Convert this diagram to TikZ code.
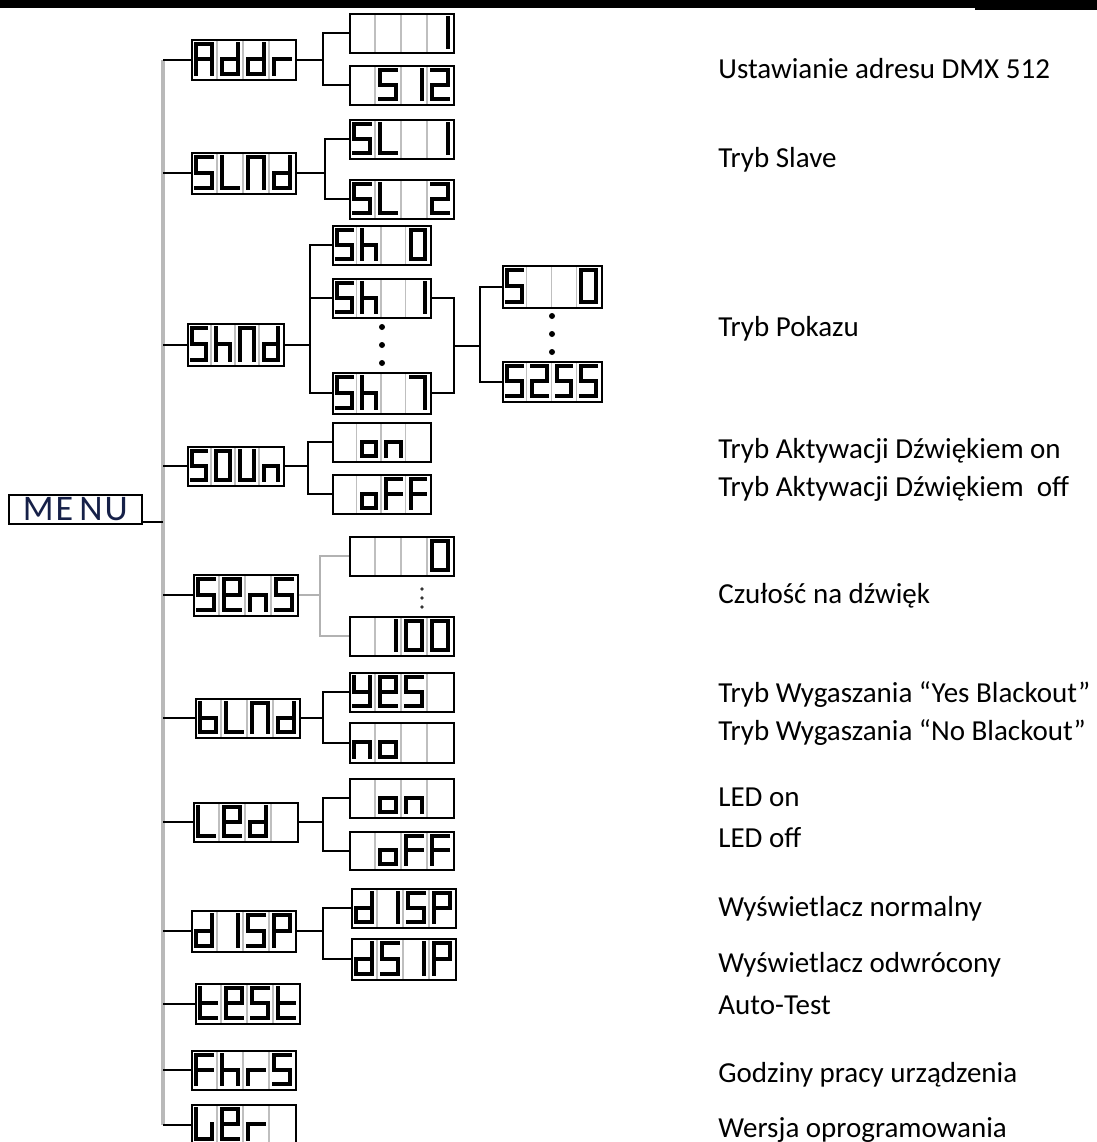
\documentclass[tikz,border=0pt]{standalone}
\usepackage{fontspec}
\setmainfont{Carlito}
\usepackage{tikz}
\usetikzlibrary{calc}

\definecolor{menublue}{RGB}{22,32,72}

\tikzset{
  lcd/.style={draw, line width=0.9pt, rectangle, inner sep=0pt, anchor=north west},
  lcdsep/.style={draw=gray!50, line width=0.6pt},
  seg/.style={line width=2pt, line cap=rect},
  link/.style={line width=1pt},
  graylink/.style={draw=gray!60, line width=1pt},
  bus/.style={draw=gray!55, line width=1.6pt},
  descr/.style={anchor=base west, inner sep=0pt, font=\fontsize{14.5}{17}\selectfont},
}

\def\sega{(\gl,\gt) -- (\gr,\gt)}
\def\segb{(\gr,\gt) -- (\gr,\gm)}
\def\segc{(\gr,\gm) -- (\gr,\gb)}
\def\segd{(\gl,\gb) -- (\gr,\gb)}
\def\sege{(\gl,\gm) -- (\gl,\gb)}
\def\segf{(\gl,\gt) -- (\gl,\gm)}
\def\segg{(\gl,\gm) -- (\gr,\gm)}
\def\segz{}

\newcommand{\defglyph}[2]{\expandafter\def\csname glyph#1\endcsname{#2}}
\defglyph{x}{z}
\defglyph{0}{a,b,c,d,e,f}
\defglyph{1}{b,c}
\defglyph{2}{a,b,g,e,d}
\defglyph{5}{a,f,g,c,d}
\defglyph{7}{a,b,c}
\defglyph{A}{a,b,c,e,f,g}
\defglyph{b}{c,d,e,f,g}
\defglyph{d}{b,c,d,e,g}
\defglyph{E}{a,b,d,e,f,g}
\defglyph{F}{a,e,f,g}
\defglyph{h}{c,e,f,g}
\defglyph{L}{d,e,f}
\defglyph{N}{a,b,c,e,f}
\defglyph{n}{c,e,g}
\defglyph{o}{c,d,e,g}
\defglyph{P}{a,b,e,f,g}
\defglyph{r}{e,g}
\defglyph{t}{d,e,f,g}
\defglyph{U}{b,c,d,e,f}
\defglyph{v}{c,d,e,f}
\defglyph{y}{b,c,d,f,g}

\newcommand{\lcdbox}[6]{%
  \foreach \k in {1,2,3}
    \draw[lcdsep] (#2+\k*#4,#3) -- (#2+\k*#4,#3+#5);
  \foreach \g [count=\i from 0] in {#6} {
    \pgfmathsetmacro\gl{#2+\i*#4+5}
    \pgfmathsetmacro\gr{#2+(\i+1)*#4-5}
    \pgfmathsetmacro\gt{#3+5}
    \pgfmathsetmacro\gb{#3+#5-5}
    \pgfmathsetmacro\gm{#3+#5/2}
    \edef\seglist{\csname glyph\g\endcsname}
    \foreach \s in \seglist {\edef\segpath{\csname seg\s\endcsname}\draw[seg] \segpath;}
  }
  \node[lcd, minimum width=#4*2pt, minimum height=#5*0.5pt] (#1) at (#2,#3) {};
}

\newcommand{\branch}[5][link]{%
  \draw[#1] (#2.east) -- (#2.east -| #3);
  \draw[#1] (#4.west) -| (#3 |- #5.west) -- (#5.west);
}

\begin{document}
\begin{tikzpicture}[x=0.5pt,y=-0.5pt]
\useasboundingbox (0,0) rectangle (1097,1142);
\fill (0,0) rectangle (975,8);
\fill (975,0) rectangle (1097,10);

\node[draw, line width=0.8pt, anchor=north west, inner sep=0pt, minimum width=66.5pt, minimum height=14.5pt,
  text=menublue, font=\fontsize{18}{18}\selectfont] (menu) at (8,494) {M\kern1pt E\kern3pt N\kern1pt U};

\lcdbox{addr}{191}{39}{26}{40}{A,d,d,r}
\lcdbox{slnd}{191}{152}{26}{41}{5,L,N,d}
\lcdbox{shnd}{187}{323}{24}{42}{5,h,N,d}
\lcdbox{soun}{187}{446}{24}{39}{5,0,U,n}
\lcdbox{sens}{193}{574}{26}{41}{5,E,n,5}
\lcdbox{blnd}{195}{698}{26}{39}{b,L,N,d}
\lcdbox{led}{193}{802}{26}{39}{L,E,d,x}
\lcdbox{disp}{191}{910}{26}{41}{d,1,5,P}
\lcdbox{test}{195}{983}{26}{40}{t,E,5,t}
\lcdbox{fhrs}{191}{1050}{26}{39}{F,h,r,5}
\lcdbox{ver}{191}{1104}{26}{40}{v,E,r,x}

\lcdbox{adr1}{349}{13}{26}{39}{x,x,x,1}
\lcdbox{adr512}{349}{65}{26}{39}{x,5,1,2}
\lcdbox{sl1}{349}{119}{26}{39}{5,L,x,1}
\lcdbox{sl2}{349}{179}{26}{39}{5,L,x,2}
\lcdbox{sh0}{332}{225}{24.5}{39}{5,h,x,0}
\lcdbox{sh1}{332}{278}{24.5}{39}{5,h,x,1}
\lcdbox{sh7}{332}{372}{24.5}{41}{5,h,x,7}
\lcdbox{spd0}{502}{265}{24.75}{42}{5,x,x,0}
\lcdbox{spd255}{502}{361}{24.75}{40}{5,2,5,5}
\lcdbox{sndon}{332}{422}{24.5}{39}{x,o,n,x}
\lcdbox{sndoff}{332}{474}{24.5}{39}{x,o,F,F}
\lcdbox{sens0}{349}{536}{26}{39}{x,x,x,0}
\lcdbox{sens100}{349}{616}{26}{39}{x,1,0,0}
\lcdbox{yes}{349}{672}{26}{39}{y,E,5,x}
\lcdbox{no}{349}{722}{26}{40}{n,o,x,x}
\lcdbox{ledon}{349}{778}{26}{39}{x,o,n,x}
\lcdbox{ledoff}{349}{831}{26}{38}{x,o,F,F}
\lcdbox{dispn}{351}{888}{26}{39}{d,1,5,P}
\lcdbox{dispr}{351}{938}{26}{41}{d,5,1,P}

\coordinate (bus) at (163,0);
\draw[bus] (addr.west -| bus) -- (ver.west -| bus);
\foreach \n in {addr,slnd,shnd,soun,sens,blnd,led,disp,test,fhrs,ver}
  \draw[link] (\n.west -| bus) -- (\n.west);
\draw[link] ([yshift=1.5pt]menu.south east) -- ([yshift=1.5pt]menu.south east -| bus);

\coordinate (jAddr) at (323,0);
\coordinate (jSlnd) at (325,0);
\coordinate (jShnd) at (310,0);
\coordinate (jMerge) at (454,0);
\coordinate (jSpeed) at (480,0);
\coordinate (jSoun) at (308,0);
\coordinate (jSens) at (320,0);
\coordinate (jBlnd) at (323,0);
\coordinate (jLed) at (323,0);
\coordinate (jDisp) at (323,0);

\branch{addr}{jAddr}{adr1}{adr512}
\branch{slnd}{jSlnd}{sl1}{sl2}
\branch{shnd}{jShnd}{sh0}{sh7}
\draw[link] (sh1.west) -- (sh1.west -| jShnd);
\draw[link] (sh1.east) -| (jMerge |- sh7.east) -- (sh7.east);
\coordinate (mShow) at ($(jMerge |- sh1.east)!0.5!(jMerge |- sh7.east)$);
\draw[link] (mShow) -- (mShow -| jSpeed);
\draw[link] (spd0.west) -| (jSpeed |- spd255.west) -- (spd255.west);
\branch{soun}{jSoun}{sndon}{sndoff}
\branch[graylink]{sens}{jSens}{sens0}{sens100}
\branch{blnd}{jBlnd}{yes}{no}
\branch{led}{jLed}{ledon}{ledoff}
\branch{disp}{jDisp}{dispn}{dispr}

\foreach \y in {327,345,363}
  \fill (382,\y) circle (1.5pt);
\foreach \y in {316,334,352}
  \fill (552,\y) circle (1.5pt);
\foreach \y in {589,598,607}
  \fill[black!80] (422,\y) circle (0.9pt);

\node[descr] (dAddr) at (718,78) {Ustawianie adresu DMX 512};
\node[descr] (dSlnd) at (718,167) {Tryb Slave};
\node[descr] (dShnd) at (718,336) {Tryb Pokazu};
\node[descr] (dSndOn) at (718,458) {Tryb Aktywacji Dźwiękiem on};
\node[descr] (dSndOff) at (718,496) {Tryb Aktywacji Dźwiękiem\ \ off};
\node[descr] (dSens) at (718,603) {Czułość na dźwięk};
\node[descr] (dYes) at (718,702) {Tryb Wygaszania “Yes Blackout”};
\node[descr] (dNo) at (718,740) {Tryb Wygaszania “No Blackout”};
\node[descr] (dLedOn) at (718,806) {LED on};
\node[descr] (dLedOff) at (718,847) {LED off};
\node[descr] (dDispN) at (718,916) {Wyświetlacz normalny};
\node[descr] (dDispR) at (718,972) {Wyświetlacz odwrócony};
\node[descr] (dTest) at (718,1014) {Auto-Test};
\node[descr] (dFhrs) at (718,1082) {Godziny pracy urządzenia};
\node[descr] (dVer) at (718,1137) {Wersja oprogramowania};
\end{tikzpicture}
\end{document}
